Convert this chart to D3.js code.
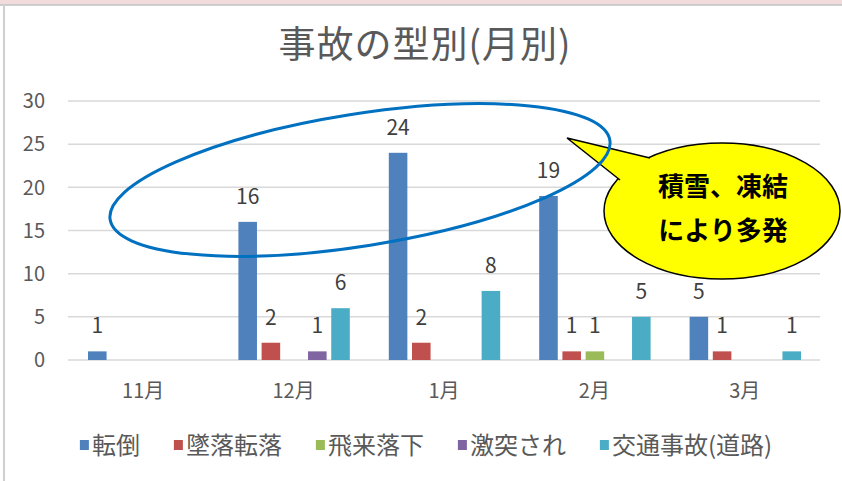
<!DOCTYPE html>
<html lang="ja">
  <head>
    <meta charset="UTF-8" />
    <title>事故の型別(月別)</title>
    <script src="https://d3js.org/d3.v7.min.js"></script>
    <style>
      html,
      body {
        margin: 0;
        padding: 0;
        background-color: #fff;
        font-family: "Noto Sans CJK JP", "Noto Sans", sans-serif;
      }
    </style>
  </head>
  <body>
    <svg id="chart"></svg>
    <script>
      // data
      const months = ["11月", "12月", "1月", "2月", "3月"];
      const seriesNames = ["転倒", "墜落転落", "飛来落下", "激突され", "交通事故(道路)"];
      const tentou = [1, 16, 24, 19, 5];
      const tsuiraku = [0, 2, 2, 1, 1];
      const hirai = [0, 0, 0, 1, 0];
      const gekitotsu = [0, 1, 0, 0, 0];
      const koutsuu = [0, 6, 8, 5, 1];
      const yTicks = [0, 5, 10, 15, 20, 25, 30];
      const colors = ["#4f81bd", "#c0504d", "#9bbb59", "#8064a2", "#4bacc6"];

      const seriesValues = [tentou, tsuiraku, hirai, gekitotsu, koutsuu];

      const width = 842;
      const height = 481;
      const plot = { left: 68, right: 820, top: 101, bottom: 360 };

      const svg = d3
        .select("#chart")
        .attr("width", width)
        .attr("height", height);

      // window frame: pink strip on top, grey edges
      svg.append("rect").attr("x", 0).attr("y", 0).attr("width", width).attr("height", 4.5).attr("fill", "#f2dcdb");
      svg.append("line").attr("x1", 0).attr("x2", width).attr("y1", 5).attr("y2", 5).attr("stroke", "#bfbfbf").attr("stroke-width", 1.5);
      svg.append("line").attr("x1", 4).attr("x2", 4).attr("y1", 5).attr("y2", height).attr("stroke", "#d0d0d0").attr("stroke-width", 2);

      const x0 = d3.scaleBand().domain(months).range([plot.left, plot.right]).padding(0);
      const x1 = d3
        .scaleBand()
        .domain(seriesNames)
        .range([20, x0.bandwidth() - 19])
        .paddingInner(0.2);
      const y = d3.scaleLinear().domain([0, 30]).range([plot.bottom, plot.top]);

      // title
      svg
        .append("text")
        .attr("x", 425)
        .attr("y", 58)
        .attr("text-anchor", "middle")
        .attr("font-size", "37px")
        .attr("letter-spacing", "1px")
        .attr("fill", "#595959")
        .text("事故の型別(月別)");

      // gridlines
      svg
        .selectAll(".grid")
        .data(yTicks)
        .enter()
        .append("line")
        .attr("x1", plot.left)
        .attr("x2", plot.right)
        .attr("y1", (d) => y(d))
        .attr("y2", (d) => y(d))
        .attr("stroke", "#d9d9d9")
        .attr("stroke-width", 1.5);

      // y tick labels
      svg
        .selectAll(".ytick")
        .data(yTicks)
        .enter()
        .append("text")
        .attr("x", 45)
        .attr("y", (d) => y(d))
        .attr("dy", "0.36em")
        .attr("text-anchor", "end")
        .attr("font-size", "20px")
        .attr("fill", "#595959")
        .text((d) => d);

      // bars
      const groups = svg
        .selectAll(".month")
        .data(months)
        .enter()
        .append("g")
        .attr("transform", (d) => `translate(${x0(d)},0)`);

      const cells = groups
        .selectAll("g")
        .data((m, i) => seriesNames.map((s, k) => ({ s, k, v: seriesValues[k][i] })))
        .enter()
        .filter((d) => d.v > 0)
        .append("g");

      cells
        .append("rect")
        .attr("x", (d) => x1(d.s))
        .attr("y", (d) => y(d.v))
        .attr("width", x1.bandwidth())
        .attr("height", (d) => y(0) - y(d.v))
        .attr("fill", (d) => colors[d.k]);

      cells
        .append("text")
        .attr("x", (d) => x1(d.s) + x1.bandwidth() / 2)
        .attr("y", (d) => y(d.v) - 18)
        .attr("text-anchor", "middle")
        .attr("font-size", "21px")
        .attr("fill", "#404040")
        .text((d) => d.v);

      // category labels
      svg
        .selectAll(".xlab")
        .data(months)
        .enter()
        .append("text")
        .attr("x", (d) => x0(d) + x0.bandwidth() / 2)
        .attr("y", 398)
        .attr("text-anchor", "middle")
        .attr("font-size", "20px")
        .attr("fill", "#595959")
        .text((d) => d);

      // legend
      const legend = svg.append("g");
      const legendGap = 34;
      let lx = 0;
      seriesNames.forEach((name, i) => {
        const item = legend.append("g").attr("transform", `translate(${lx},0)`);
        item.append("rect").attr("x", 0).attr("y", -5).attr("width", 9).attr("height", 10).attr("fill", colors[i]);
        const t = item
          .append("text")
          .attr("x", 12)
          .attr("y", 0)
          .attr("dy", "0.36em")
          .attr("font-size", "24px")
          .attr("fill", "#595959")
          .text(name);
        lx += 12 + t.node().getComputedTextLength() + legendGap;
      });
      const legendWidth = lx - legendGap;
      legend.attr("transform", `translate(${426 - legendWidth / 2},445)`);

      // callout bubble
      const bubble = svg.append("g");
      const bc = { cx: 722, cy: 211, rx: 118, ry: 68 };
      const tip = [567, 138];
      const p1 = [650, 158];
      const p2 = [620, 180];
      bubble
        .append("ellipse")
        .attr("cx", bc.cx)
        .attr("cy", bc.cy)
        .attr("rx", bc.rx)
        .attr("ry", bc.ry)
        .attr("fill", "#ffff00")
        .attr("stroke", "#000")
        .attr("stroke-width", 1.5);
      bubble
        .append("path")
        .attr("d", `M${tip}L${p1}L${bc.cx - 60},${bc.cy - 10}L${p2}Z`)
        .attr("fill", "#ffff00");
      bubble
        .append("path")
        .attr("d", `M${p1}L${tip}L${p2}`)
        .attr("fill", "none")
        .attr("stroke", "#000")
        .attr("stroke-width", 1.5);
      bubble
        .selectAll("text")
        .data(["積雪、凍結", "により多発"])
        .enter()
        .append("text")
        .attr("x", 723)
        .attr("y", (d, i) => 196 + i * 44)
        .attr("text-anchor", "middle")
        .attr("font-size", "26px")
        .attr("font-weight", "bold")
        .attr("fill", "#000")
        .text((d) => d);

      // blue ring round the winter months
      svg
        .append("ellipse")
        .attr("cx", 360)
        .attr("cy", 180)
        .attr("rx", 253)
        .attr("ry", 66)
        .attr("transform", "rotate(-9,360,180)")
        .attr("fill", "none")
        .attr("stroke", "#0070c0")
        .attr("stroke-width", 3);
    </script>
  </body>
</html>
